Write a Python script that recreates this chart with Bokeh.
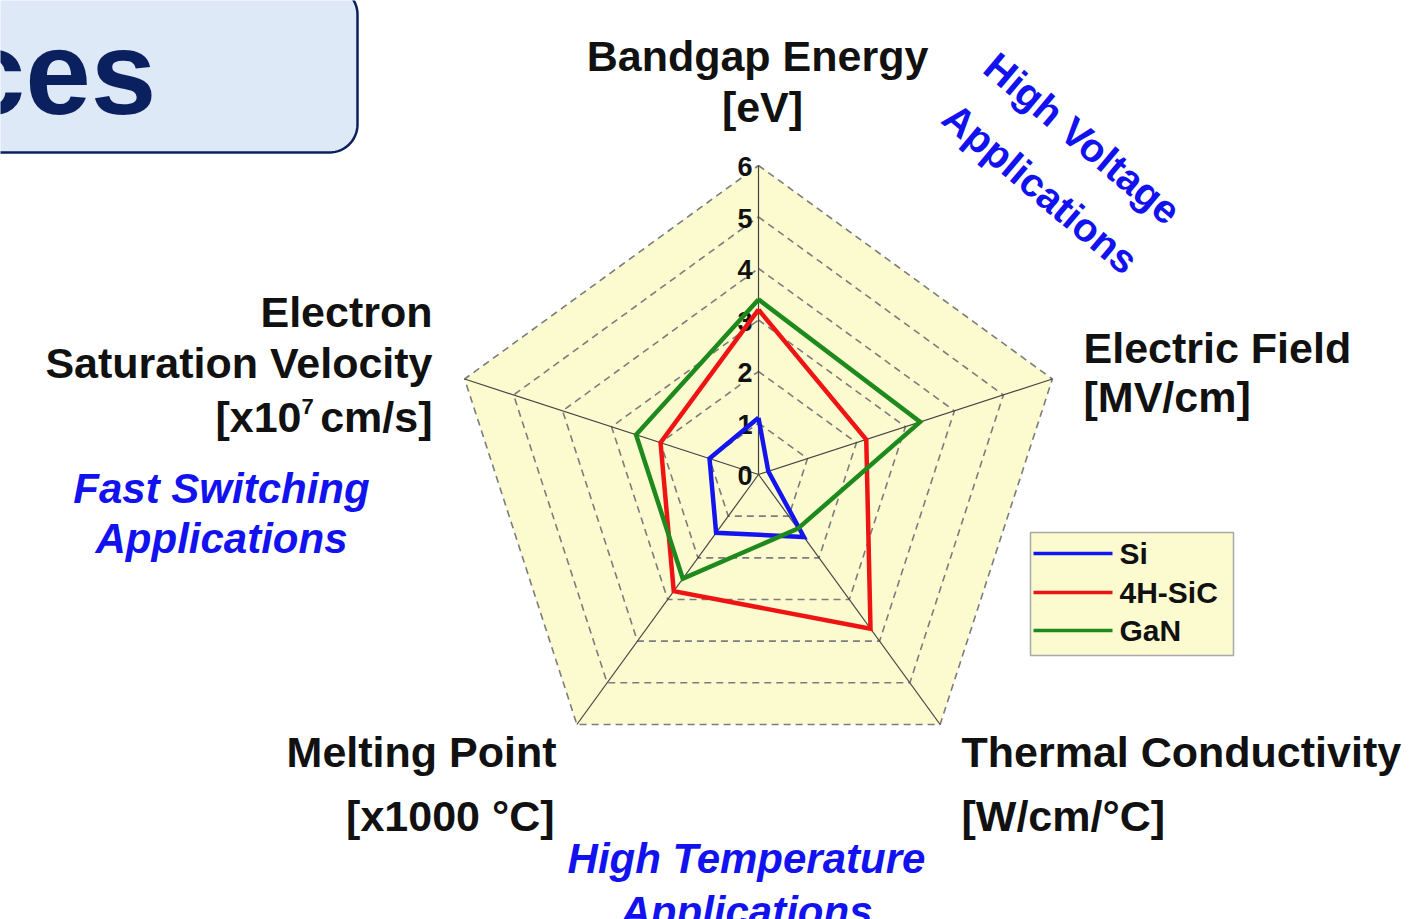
import numpy as np
from bokeh.plotting import figure
from bokeh.models import Range1d
from bokeh.core.properties import value
from bokeh.embed import file_html
from bokeh.resources import INLINE

# ---------------- data ----------------
axes_names = ["Bandgap Energy", "Electric Field", "Thermal Conductivity",
              "Melting Point", "Electron Saturation Velocity"]
si_vals = [1.1, 0.2, 1.5, 1.4, 1.0]
sic_vals = [3.2, 2.2, 3.7, 2.8, 2.0]
gan_vals = [3.4, 3.3, 1.3, 2.5, 2.5]
series_names = ["Si", "4H-SiC", "GaN"]
series_colors = ["#1414ee", "#ee1414", "#1e8a1e"]
tick_labels = ["0", "1", "2", "3", "4", "5", "6"]
r_max = 6

# ---------------- layout helpers ----------------
PW, PH = 1414, 919
FONT = value("Liberation Sans")


def Y(py):
    return PH - py


p = figure(width=PW, height=PH, x_range=Range1d(0, PW), y_range=Range1d(0, PH),
           output_backend="svg", toolbar_location=None, min_border=0,
           x_axis_type=None, y_axis_type=None)
p.grid.visible = False
p.outline_line_color = None
p.background_fill_color = "white"
p.border_fill_color = "white"


def txt(x, py, s, size, color="#111111", align="left", style="bold", angle=0.0):
    p.text(x=[x], y=[Y(py)], text=[s], text_font=FONT, text_font_size=f"{size}px",
           text_font_style=style, text_color=color, text_align=align,
           text_baseline="middle", angle=angle)


# ---------------- title box (cropped) ----------------
def rounded_rect(l, r, top, bot, rad, n=16):
    pts = []
    for (ccx, ccy, a0) in [(r - rad, top - rad, 0), (l + rad, top - rad, 90),
                           (l + rad, bot + rad, 180), (r - rad, bot + rad, 270)]:
        for a in np.linspace(a0, a0 + 90, n):
            ar = np.deg2rad(a)
            pts.append((ccx + rad * np.cos(ar), ccy + rad * np.sin(ar)))
    return [q[0] for q in pts], [q[1] for q in pts]


bx, by = rounded_rect(-40, 357, Y(-14), Y(152), 28)
p.patch(bx, by, fill_color="#dde9f6", line_color="#0b215f", line_width=2.5)
txt(156, 72, "ces", 118, color="#0b215f", align="right")

# ---------------- radar geometry ----------------
cx, cy = 758, Y(474)
S = 51.5
n_ax = len(axes_names)
theta = np.deg2rad(90 - 72 * np.arange(n_ax))


def ring(vals):
    v = np.asarray(vals, dtype=float)
    xs = cx + S * v * np.cos(theta)
    ys = cy + S * v * np.sin(theta)
    return list(xs) + [xs[0]], list(ys) + [ys[0]]


ox, oy = ring([r_max] * n_ax)
p.patch(ox, oy, fill_color="#fcfbd0", line_color=None)

for k in range(1, r_max + 1):
    rx, ry = ring([k] * n_ax)
    p.line(rx, ry, line_color="#7c7c7c", line_width=1.6, line_dash="7 5")

p.segment(x0=[cx] * n_ax, y0=[cy] * n_ax,
          x1=list(cx + S * r_max * np.cos(theta)), y1=list(cy + S * r_max * np.sin(theta)),
          line_color="#444444", line_width=1.2)

for k, lab in enumerate(tick_labels):
    p.text(x=[752], y=[cy + S * k - 1], text=[lab], text_font=FONT, text_font_size="27px",
           text_font_style="bold", text_color="#111111", text_align="right",
           text_baseline="middle")

for vals, col in zip([si_vals, sic_vals, gan_vals], series_colors):
    lx, ly = ring(vals)
    p.line(lx, ly, line_color=col, line_width=4.5, line_join="miter")

# ---------------- axis labels ----------------
LS = 43
txt(757, 55, "Bandgap Energy", LS, align="center")
txt(762, 106, "[eV]", LS, align="center")

txt(1083, 347, "Electric Field", LS)
txt(1083, 396, "[MV/cm]", LS)

txt(961, 751, "Thermal Conductivity", LS)
txt(961, 815, "[W/cm/°C]", LS)

txt(556, 751, "Melting Point", LS, align="right")
txt(554, 815, "[x1000 °C]", LS, align="right")

txt(432, 311, "Electron", LS, align="right")
txt(432, 362, "Saturation Velocity", LS, align="right")
txt(432, 416, "cm/s]", LS, align="right")
txt(301, 406, "7", 22, align="left")
txt(301, 416, "[x10", LS, align="right")

# ---------------- application notes ----------------
BLUE = "#1212f0"
txt(221, 488, "Fast Switching", 42, color=BLUE, align="center", style="bold italic")
txt(221, 538, "Applications", 42, color=BLUE, align="center", style="bold italic")
txt(746, 858, "High Temperature", 42, color=BLUE, align="center", style="bold italic")
txt(746, 911, "Applications", 42, color=BLUE, align="center", style="bold italic")
ang = np.deg2rad(-40)
txt(1082, 138, "High Voltage", 40, color=BLUE, align="center", angle=ang)
txt(1040, 188, "Applications", 40, color=BLUE, align="center", angle=ang)

# ---------------- legend ----------------
p.quad(left=[1030], right=[1233], top=[Y(532)], bottom=[Y(655)],
       fill_color="#fcfbd0", line_color="#a8a8a8", line_width=1.5)
leg_y = [553, 592, 630]
for name, col, ly in zip(series_names, series_colors, leg_y):
    p.line([1033, 1112], [Y(ly), Y(ly)], line_color=col, line_width=3.5)
    p.text(x=[1119], y=[Y(ly)], text=[name], text_font=FONT, text_font_size="30px",
           text_font_style="bold", text_color="#111111", text_align="left",
           text_baseline="middle")

open("out.html", "w").write(file_html(p, INLINE))
